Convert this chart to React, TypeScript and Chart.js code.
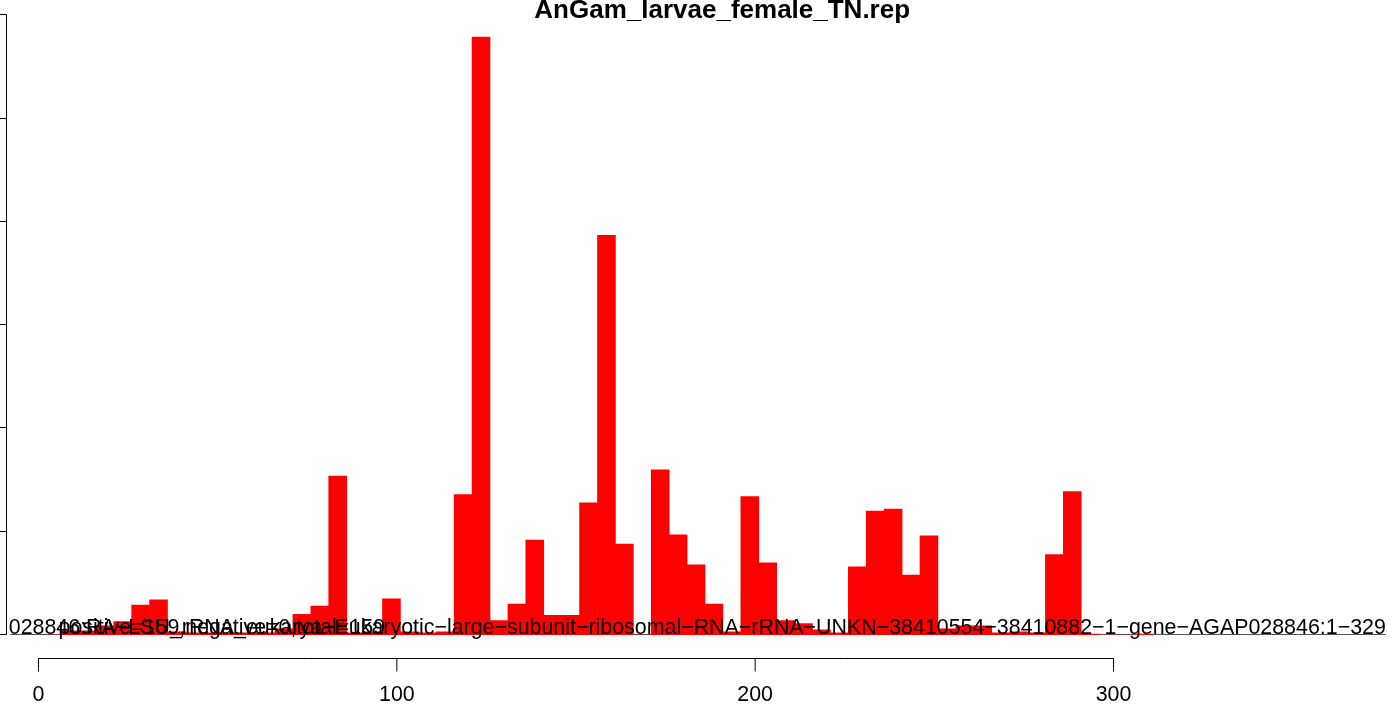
import React, { useEffect, useRef } from "react";
import { Chart, registerables } from "chart.js";

Chart.register(...registerables);

const TITLE = "AnGam_larvae_female_TN.rep";
const statsLabel = "positive=159,negative=0,total=159";
const featureLabel =
  "AGAP028846:RA\u2212LSU_rRNA_eukarya\u2212Eukaryotic\u2212large\u2212subunit\u2212ribosomal\u2212RNA\u2212rRNA\u2212UNKN\u221238410554\u221238410882\u22121\u2212gene\u2212AGAP028846:1\u2212329";

const BIN_WIDTH = 5;
const binStarts = [
  1, 6, 11, 16, 21, 26, 31, 36, 41, 46, 51, 56, 61, 66, 71, 76, 81, 86, 91, 96,
  101, 106, 111, 116, 121, 126, 131, 136, 141, 146, 151, 156, 161, 166, 171, 176,
  181, 186, 191, 196, 201, 206, 211, 216, 221, 226, 231, 236, 241, 246, 251, 256,
  261, 266, 271, 276, 281, 286, 291, 296, 301, 306,
];
const counts = [
  0, 4, 4, 9, 13, 29, 34, 3, 2, 2, 2, 2, 2, 6, 20, 28, 154, 2, 3, 35,
  3, 2, 3, 136, 579, 14, 30, 92, 19, 19, 128, 387, 88, 0, 160, 97,
  68, 30, 3, 134, 70, 14, 11, 5, 2, 66, 120, 122, 58, 96, 6, 9,
  9, 2, 3, 2, 78, 139, 1, 0, 0, 1,
];
const xTicks = [0, 100, 200, 300];
const yTicks = [0, 100, 200, 300, 400, 500, 600];

const FONT = "'Liberation Sans', Arial, Helvetica, sans-serif";
const LABEL_FONT = `21.4px ${FONT}`;

const rPlot = {
  id: "rPlot",
  beforeDatasetsDraw(chart: any) {
    const ctx = chart.ctx;
    const xs = chart.scales.x;
    const ys = chart.scales.y;
    const y0 = ys.getPixelForValue(0) - 0.5;
    ctx.save();
    ctx.font = LABEL_FONT;
    const w = ctx.measureText(featureLabel).width;
    const right = xs.getPixelForValue(376);
    ctx.strokeStyle = "#555555";
    ctx.lineWidth = 1;
    ctx.beginPath();
    ctx.moveTo(Math.max(right - w, 10), y0);
    ctx.lineTo(right, y0);
    ctx.stroke();
    ctx.restore();
  },
  afterDraw(chart: any) {
    const ctx = chart.ctx;
    const xs = chart.scales.x;
    const ys = chart.scales.y;
    ctx.save();
    ctx.strokeStyle = "#000";
    ctx.fillStyle = "#000";
    ctx.lineWidth = 1;

    // y axis (R style, at left edge)
    const ax = Math.round(xs.getPixelForValue(-9.2)) + 0.5;
    const yTop = ys.getPixelForValue(yTicks[yTicks.length - 1]);
    const yBot = ys.getPixelForValue(yTicks[0]);
    ctx.beginPath();
    ctx.moveTo(ax, Math.round(yTop) - 0.5);
    ctx.lineTo(ax, Math.round(yBot) - 0.5);
    for (const t of yTicks) {
      const py = Math.round(ys.getPixelForValue(t)) - 0.5;
      ctx.moveTo(ax, py);
      ctx.lineTo(ax - 8, py);
    }
    ctx.stroke();

    // x axis (R style, offset below)
    const axY = 658.5;
    const x0 = xs.getPixelForValue(xTicks[0]);
    const x1 = xs.getPixelForValue(xTicks[xTicks.length - 1]);
    ctx.beginPath();
    ctx.moveTo(x0, axY);
    ctx.lineTo(x1, axY);
    for (const t of xTicks) {
      const px = xs.getPixelForValue(t);
      ctx.moveTo(px, axY);
      ctx.lineTo(px, axY + 13);
    }
    ctx.stroke();
    ctx.font = LABEL_FONT;
    ctx.textAlign = "center";
    ctx.textBaseline = "middle";
    for (const t of xTicks) {
      ctx.fillText(String(t), xs.getPixelForValue(t), 695);
    }

    // labels over the bars, clipped to the plot region like R
    ctx.save();
    ctx.beginPath();
    ctx.rect(ax + 2, 0, chart.width, chart.height);
    ctx.clip();
    ctx.textBaseline = "alphabetic";
    ctx.textAlign = "left";
    ctx.fillText(statsLabel, xs.getPixelForValue(5.6), 634);
    ctx.textAlign = "right";
    ctx.fillText(featureLabel, xs.getPixelForValue(376), 634);
    ctx.restore();

    // title
    ctx.font = `bold 26px ${FONT}`;
    ctx.textAlign = "center";
    ctx.fillText(TITLE, xs.getPixelForValue(190.8), 11);
    ctx.restore();
  },
};

export default function App() {
  const ref = useRef<HTMLCanvasElement | null>(null);
  useEffect(() => {
    document.body.style.margin = "0";
    const canvas = ref.current!;
    const data = binStarts.map((s, i) => ({ x: s + BIN_WIDTH / 2, y: counts[i] }));
    const chart = new Chart(canvas, {
      type: "bar",
      data: {
        datasets: [
          {
            data,
            backgroundColor: "#ff0000",
            borderWidth: 0,
            barPercentage: 1.0,
            categoryPercentage: 1.0,
          },
        ],
      },
      options: {
        responsive: false,
        animation: false,
        devicePixelRatio: 1,
        layout: { padding: { left: 6.25, right: 6, top: 0, bottom: 74 } },
        plugins: { legend: { display: false }, tooltip: { enabled: false }, title: { display: false } },
        scales: {
          x: { type: "linear", min: -9, max: 378, display: false, offset: false },
          y: { type: "linear", min: 0, max: 615, display: false },
        },
      },
      plugins: [rPlot],
    });
    return () => chart.destroy();
  }, []);
  return (
    <div style={{ width: 1399, height: 709, background: "#fff" }}>
      <canvas ref={ref} width={1399} height={709} style={{ display: "block" }} />
    </div>
  );
}
